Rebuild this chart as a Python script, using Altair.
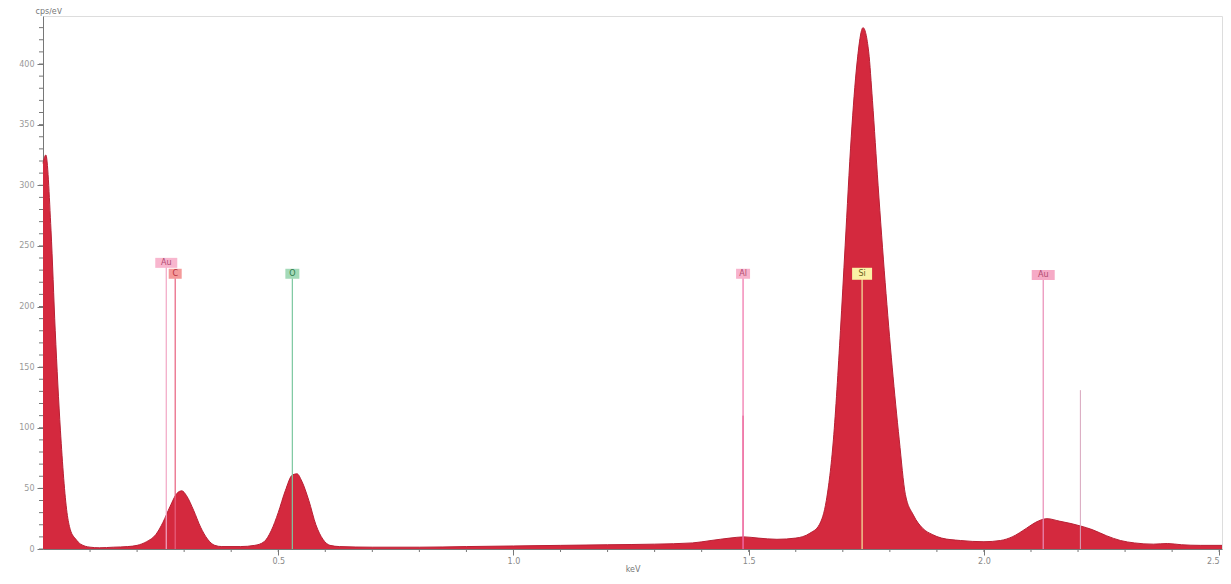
import altair as alt
import pandas as pd

# ---- spectrum (keV, cps/eV) ----
spec_kev = [0.000, 0.006, 0.017, 0.026, 0.037, 0.051, 0.058, 0.070, 0.080, 0.100,
            0.120, 0.150, 0.180, 0.200, 0.220, 0.240, 0.255, 0.270, 0.285, 0.295,
            0.305, 0.320, 0.335, 0.350, 0.365, 0.380, 0.420, 0.450, 0.470, 0.485,
            0.500, 0.515, 0.530, 0.540, 0.550, 0.565, 0.580, 0.595, 0.610, 0.630,
            0.700, 0.800, 0.900, 1.000, 1.100, 1.200, 1.300, 1.380, 1.420, 1.460,
            1.490, 1.520, 1.560, 1.600, 1.630, 1.650, 1.665, 1.680, 1.695, 1.705,
            1.718, 1.730, 1.743, 1.755, 1.763, 1.775, 1.790, 1.805, 1.820, 1.833,
            1.850, 1.870, 1.890, 1.910, 1.950, 2.000, 2.035, 2.060, 2.090, 2.110,
            2.134, 2.160, 2.185, 2.205, 2.230, 2.260, 2.290, 2.320, 2.360, 2.390,
            2.420, 2.460, 2.506]
spec_cps = [318, 325, 263, 180, 98, 30, 16, 8, 4, 1.5,
            1, 1.5, 2, 3, 6, 12, 22, 35, 46, 48,
            44, 32, 18, 8, 3, 2, 2, 3, 6, 15,
            30, 48, 61, 62, 56, 40, 20, 8, 3, 2,
            1.5, 1.5, 2, 2.5, 3, 3.5, 4, 5, 7, 9,
            10, 9, 8, 9, 13, 20, 40, 90, 180, 250,
            340, 400, 430, 410, 370, 300, 220, 150, 90, 45,
            28, 17, 12, 9, 7, 6, 7, 10, 17, 22,
            25, 23, 21, 19, 16, 11, 7, 5, 4, 4.5,
            3.5, 3, 3]

# ---- element marker lines ----
elem_id = ["Au_a", "C", "O", "Al", "Si", "Au_b"]
elem_label = ["Au", "C", "O", "Al", "Si", "Au"]
elem_kev = [0.262, 0.281, 0.530, 1.488, 1.741, 2.126]
elem_top = [236, 227, 227, 227, 227, 226]
line_colors = ["#f2a6c4", "#e8607e", "#7cc8a0", "#f070a8", "#f4eca0", "#ea8cb6"]
box_colors = ["#f8b6ce", "#f49a9a", "#a4dab8", "#f8b2cc", "#faf2a6", "#f6aac6"]
text_colors = ["#b04a70", "#b8303c", "#2e7a4c", "#b04a70", "#6a6020", "#b04a70"]
box_shapes = ["M-1.1,-0.5H1.1V0.5H-1.1Z", "M-0.65,-0.5H0.65V0.5H-0.65Z",
              "M-0.7,-0.5H0.7V0.5H-0.7Z", "M-0.7,-0.5H0.7V0.5H-0.7Z",
              "M-1.0,-0.6H1.0V0.6H-1.0Z", "M-1.15,-0.5H1.15V0.5H-1.15Z"]

# extra unlabeled lines
extra_kev = [2.205, 1.488]
extra_top = [131, 110]
extra_colors = ["#d8a4bc", "#e03c70"]

y_major = [0, 50, 100, 150, 200, 250, 300, 350, 400]
y_minor = list(range(0, 440, 10))
x_major = [0.5, 1.0, 1.5, 2.0, 2.5]
x_minor = [round(0.1 * i, 1) for i in range(1, 26)]

spec = pd.DataFrame({"kev": spec_kev, "cps": spec_cps})
elems = pd.DataFrame({"id": elem_id, "label": elem_label, "kev": elem_kev, "top": elem_top})
extras = pd.DataFrame({"id": ["x1", "x2"], "kev": extra_kev, "top": extra_top})
ymin = pd.DataFrame({"v": y_minor})
xmin = pd.DataFrame({"v": x_minor})

FONT = "DejaVu Sans"
W, H = 1179, 533
xs = alt.Scale(domain=[0, 2.506], nice=False, zero=False)
ys = alt.Scale(domain=[0, 439.6], nice=False)

area = alt.Chart(spec).mark_area(
    color="#d4293e", opacity=1, line={"color": "#b82034", "strokeWidth": 1},
    interpolate="monotone"
).encode(
    x=alt.X("kev:Q", scale=xs, axis=alt.Axis(
        values=x_major, format=".1f", title="keV", labelFontSize=8, labelColor="#888",
        labelFont=FONT, tickColor="#777", tickSize=6, domainColor="#777", grid=False,
        titleFont=FONT, titleFontSize=8, titleFontWeight="normal", titleColor="#777",
        titlePadding=0, labelPadding=2, labelFlush=5)),
    y=alt.Y("cps:Q", scale=ys, axis=alt.Axis(
        values=y_major, title="cps/eV", labelFontSize=8, labelColor="#999",
        labelFont=FONT, tickColor="#777", tickSize=6, domainColor="#777", grid=False,
        titleFont=FONT, titleFontSize=8, titleFontWeight="normal", titleColor="#777",
        titleAngle=0, titleAlign="left", titleBaseline="bottom", titleX=-8, titleY=-1,
        labelPadding=3)),
)

ymin_ticks = alt.Chart(ymin).mark_rule(color="#777", strokeWidth=1).encode(
    y=alt.Y("v:Q", scale=ys), x=alt.value(-4), x2=alt.value(0)
)
xmin_ticks = alt.Chart(xmin).mark_rule(color="#777", strokeWidth=1).encode(
    x=alt.X("v:Q", scale=xs), y=alt.value(H), y2=alt.value(H + 3)
)

lines = alt.Chart(elems).mark_rule(strokeWidth=1.2).encode(
    x=alt.X("kev:Q", scale=xs), y=alt.Y("top:Q", scale=ys), y2=alt.datum(0),
    color=alt.Color("id:N", scale=alt.Scale(domain=elem_id, range=line_colors), legend=None),
)
extra_lines = alt.Chart(extras).mark_rule(strokeWidth=1).encode(
    x=alt.X("kev:Q", scale=xs), y=alt.Y("top:Q", scale=ys), y2=alt.datum(0),
    color=alt.Color("id:N", scale=alt.Scale(domain=["x1", "x2"], range=extra_colors), legend=None),
)
boxes = alt.Chart(elems).mark_point(filled=True, size=400, opacity=1).encode(
    x=alt.X("kev:Q", scale=xs), y=alt.Y("top:Q", scale=ys),
    shape=alt.Shape("id:N", scale=alt.Scale(domain=elem_id, range=box_shapes), legend=None),
    fill=alt.Fill("id:N", scale=alt.Scale(domain=elem_id, range=box_colors), legend=None),
)
texts = alt.Chart(elems).mark_text(fontSize=8, font=FONT, baseline="middle", align="center").encode(
    x=alt.X("kev:Q", scale=xs), y=alt.Y("top:Q", scale=ys), text="label:N",
    color=alt.Color("id:N", scale=alt.Scale(domain=elem_id, range=text_colors), legend=None),
)

chart = alt.layer(area, extra_lines, lines, boxes, texts, ymin_ticks, xmin_ticks).resolve_scale(
    color="independent"
).properties(
    width=W, height=H,
    autosize=alt.AutoSizeParams(type="none"),
    padding={"left": 35, "top": 8, "right": 1, "bottom": 25},
).configure_view(stroke="#aaa", strokeWidth=1).configure(background="white")

chart.save("out.html", embed_options={"renderer": "svg", "actions": False})
